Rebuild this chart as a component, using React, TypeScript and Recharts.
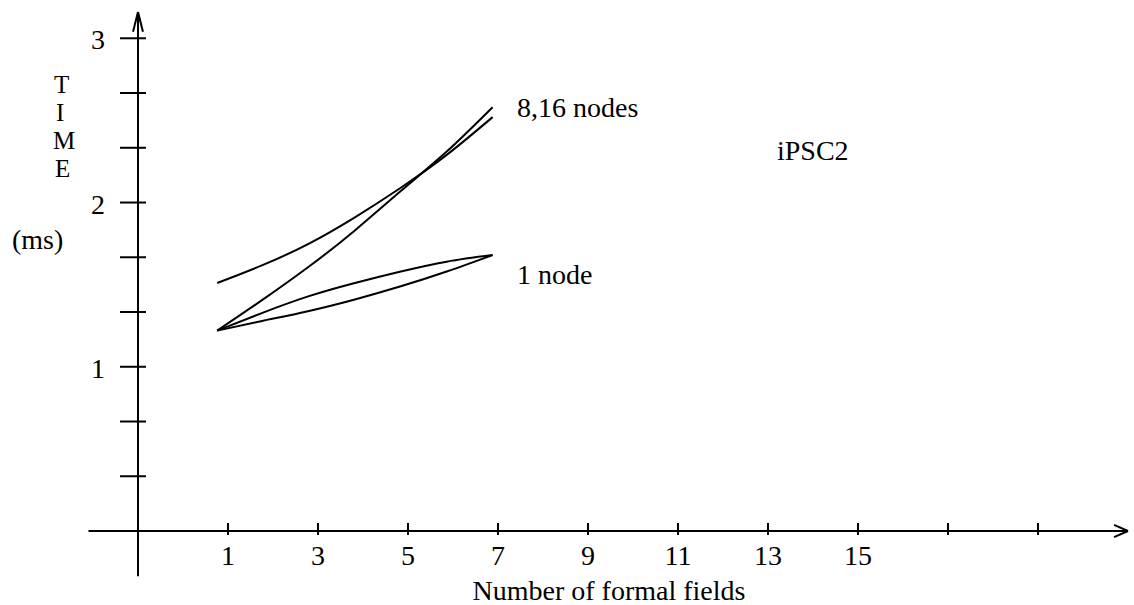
import { LineChart, Line, XAxis, YAxis, ReferenceLine } from 'recharts'

// number of formal fields (x) for each measured point
const fields = [0.76, 1.78, 2.8, 3.82, 4.84, 5.86, 6.88]

// time in ms, two runs on 8/16 nodes and two on 1 node
const eightSixteenCurved = [1.51, 1.62, 1.75, 1.91, 2.09, 2.29, 2.52]
const eightSixteenStraight = [1.22, 1.41, 1.61, 1.83, 2.07, 2.31, 2.58]
const oneNodeUpper = [1.22, 1.33, 1.43, 1.51, 1.58, 1.64, 1.68]
const oneNodeLower = [1.22, 1.28, 1.34, 1.41, 1.49, 1.58, 1.68]

const xTicks = [1, 3, 5, 7, 9, 11, 13, 15, 17, 19]
const xTickLabels = ['1', '3', '5', '7', '9', '11', '13', '15', '', '']
const yTicks = [1 / 3, 2 / 3, 1, 4 / 3, 5 / 3, 2, 7 / 3, 8 / 3, 3]

const seriesKeys = ['curved', 'straight', 'upper', 'lower']

const data = fields.map((f, i) => ({
  fields: f,
  curved: eightSixteenCurved[i],
  straight: eightSixteenStraight[i],
  upper: oneNodeUpper[i],
  lower: oneNodeLower[i],
}))

const FONT = '"Liberation Serif", "Times New Roman", serif'
const INK = '#000'

function XTick({ x, y, payload }: any) {
  const idx = xTicks.indexOf(payload.value)
  const label = idx >= 0 ? xTickLabels[idx] : ''
  return (
    <g>
      <line x1={x} x2={x} y1={y - 8} y2={y + 4} stroke={INK} strokeWidth={2} />
      {label && (
        <text x={x} y={y + 34} textAnchor="middle" fontFamily={FONT} fontSize={28} fill={INK}>
          {label}
        </text>
      )}
    </g>
  )
}

function YTick({ x, y, payload }: any) {
  const v = payload.value
  const isInt = Math.abs(v - Math.round(v)) < 1e-6
  return (
    <g>
      <line x1={x - 18} x2={x + 8} y1={y} y2={y} stroke={INK} strokeWidth={2} />
      {isInt && (
        <text x={x - 33} y={y + 11} textAnchor="end" fontFamily={FONT} fontSize={28} fill={INK}>
          {Math.round(v)}
        </text>
      )}
    </g>
  )
}

const textStyle = { fontFamily: FONT, fontSize: 28, fill: INK }
const letterStyle = { fontFamily: FONT, fontSize: 25, fill: INK }

export default function App() {
  return (
    <div style={{ position: 'absolute', left: 0, top: 0, width: 1134, height: 605, background: '#fff' }}>
      <LineChart
        width={1134}
        height={605}
        data={data}
        margin={{ top: 12, right: 6, bottom: 0, left: 78 }}
      >
        <XAxis
          dataKey="fields"
          type="number"
          domain={[-1, 21]}
          ticks={xTicks}
          height={74}
          axisLine={{ stroke: INK, strokeWidth: 2 }}
          tickLine={false}
          tickSize={0}
          tickMargin={0}
          tick={<XTick />}
          interval={0}
          allowDataOverflow
        />
        <YAxis
          type="number"
          domain={[0, 3.16]}
          ticks={yTicks}
          width={60}
          axisLine={{ stroke: INK, strokeWidth: 2 }}
          tickLine={false}
          tickSize={0}
          tickMargin={0}
          tick={<YTick />}
          interval={0}
          allowDataOverflow
        />

        {/* axis extensions past the origin and arrow heads */}
        <ReferenceLine segment={[{ x: -2.1, y: 0 }, { x: -1, y: 0 }]} stroke={INK} strokeWidth={2} ifOverflow="visible" />
        <ReferenceLine segment={[{ x: -1, y: 0 }, { x: -1, y: -0.275 }]} stroke={INK} strokeWidth={2} ifOverflow="visible" />
        <ReferenceLine segment={[{ x: 20.69, y: 0.037 }, { x: 21, y: 0 }]} stroke={INK} strokeWidth={2} ifOverflow="visible" />
        <ReferenceLine segment={[{ x: 20.69, y: -0.037 }, { x: 21, y: 0 }]} stroke={INK} strokeWidth={2} ifOverflow="visible" />
        <ReferenceLine segment={[{ x: -1.11, y: 3.04 }, { x: -1, y: 3.16 }]} stroke={INK} strokeWidth={2} ifOverflow="visible" />
        <ReferenceLine segment={[{ x: -0.89, y: 3.04 }, { x: -1, y: 3.16 }]} stroke={INK} strokeWidth={2} ifOverflow="visible" />

        {seriesKeys.map((k) => (
          <Line
            key={k}
            dataKey={k}
            type="natural"
            stroke={INK}
            strokeWidth={2}
            dot={false}
            activeDot={false}
            isAnimationActive={false}
          />
        ))}
      </LineChart>

      <svg width={1134} height={605} style={{ position: 'absolute', left: 0, top: 0, pointerEvents: 'none' }}>
        <text x={54} y={93} {...letterStyle}>T</text>
        <text x={56} y={121} {...letterStyle}>I</text>
        <text x={53} y={149} {...letterStyle}>M</text>
        <text x={55} y={177} {...letterStyle}>E</text>
        <text x={12} y={249} {...textStyle}>(ms)</text>
        <text x={517} y={117} {...textStyle}>8,16 nodes</text>
        <text x={777} y={160} {...textStyle}>iPSC2</text>
        <text x={517} y={284} {...textStyle}>1 node</text>
        <text x={609} y={600} textAnchor="middle" {...textStyle}>Number of formal fields</text>
      </svg>
    </div>
  )
}
